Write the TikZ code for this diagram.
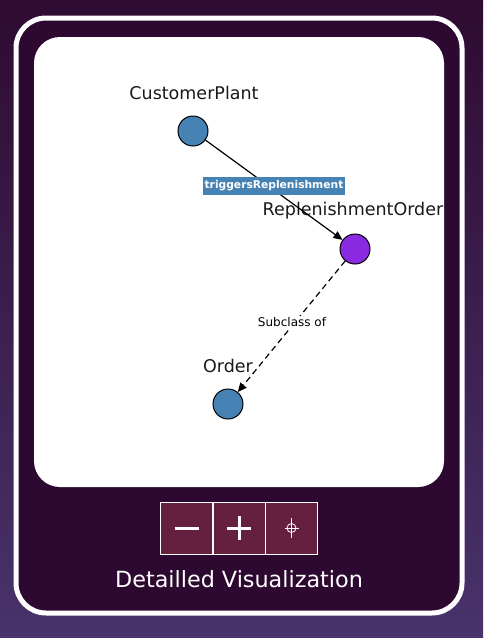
\documentclass[tikz,border=0pt]{standalone}
\usepackage{fontspec}
\setmainfont{DejaVu Sans}
\usetikzlibrary{arrows.meta}
\definecolor{bgtop}{HTML}{2F0B32}
\definecolor{bgbot}{HTML}{48336B}
\definecolor{panel}{HTML}{2D0830}
\definecolor{steel}{HTML}{4682B4}
\definecolor{violet}{HTML}{8A2BE2}
\definecolor{btn}{HTML}{65203F}
\tikzset{
  ent/.style={circle, draw=black, line width=1pt, minimum size=30pt, inner sep=0pt},
  lbl/.style={font=\fontsize{17.5}{17.5}\selectfont, text=black!90, inner sep=0pt},
  btnbox/.style={draw=white, line width=1pt, fill=btn, minimum width=52pt, minimum height=52pt, inner sep=0pt},
  rel/.style={-{Triangle[length=9pt,width=8pt]}, line width=1.2pt}
}
\begin{document}
\begin{tikzpicture}[x=1pt,y=-1pt]
\useasboundingbox (0,0) rectangle (483,638);
\shade[top color=bgtop, bottom color=bgbot] (0,0) rectangle (483,638);
\fill[panel, draw=white, line width=5pt, rounded corners=30pt] (16,18) rectangle (462,613);
\fill[white, rounded corners=26pt] (34,37) rectangle (444,487);
% nodes
\node[ent, fill=steel] (cp) at (193,131) {};
\node[ent, fill=violet] (ro) at (355,249) {};
\node[ent, fill=steel] (or) at (228,404) {};
\node[lbl] (cpl) at (194,93) {CustomerPlant};
\node[lbl] (rol) at (353,211) {ReplenishmentOrder};
\node[lbl] (orl) at (228,366) {Order};
% edges
\draw[rel] (cp) -- (ro);
\node[fill=steel, text=white, font=\bfseries\fontsize{10.7}{10.7}\selectfont, inner xsep=2pt, minimum height=18pt] (tl) at (274,186) {triggersReplenishment};
\draw[rel, dashed, dash pattern=on 6pt off 4pt] (ro) -- (or);
\node[fill=white, text=black, font=\fontsize{12}{12}\selectfont, inner sep=1pt] (sl) at (292,322) {Subclass of};
% buttons
\node[btnbox] (bm) at (186.5,528) {};
\node[btnbox] (bp) at (239,528) {};
\node[btnbox] (bc) at (291.5,528) {};
\draw[white, line width=3pt] (bm.center) ++(-12,0) -- ++(24,0);
\draw[white, line width=3pt] (bp.center) ++(-12,0) -- ++(24,0);
\draw[white, line width=3pt] (bp.center) ++(0,-12) -- ++(0,24);
\draw[white, line width=0.8pt] (bc.center) circle (4.5pt);
\draw[white, line width=0.8pt] (bc.center) ++(-7,0) -- ++(14,0);
\draw[white, line width=0.8pt] (bc.center) ++(0,-10) -- ++(0,20);
\node[text=white, font=\fontsize{22.3}{22.3}\selectfont, inner sep=0pt] (title) at (239,579) {Detailled Visualization};
\end{tikzpicture}
\end{document}
